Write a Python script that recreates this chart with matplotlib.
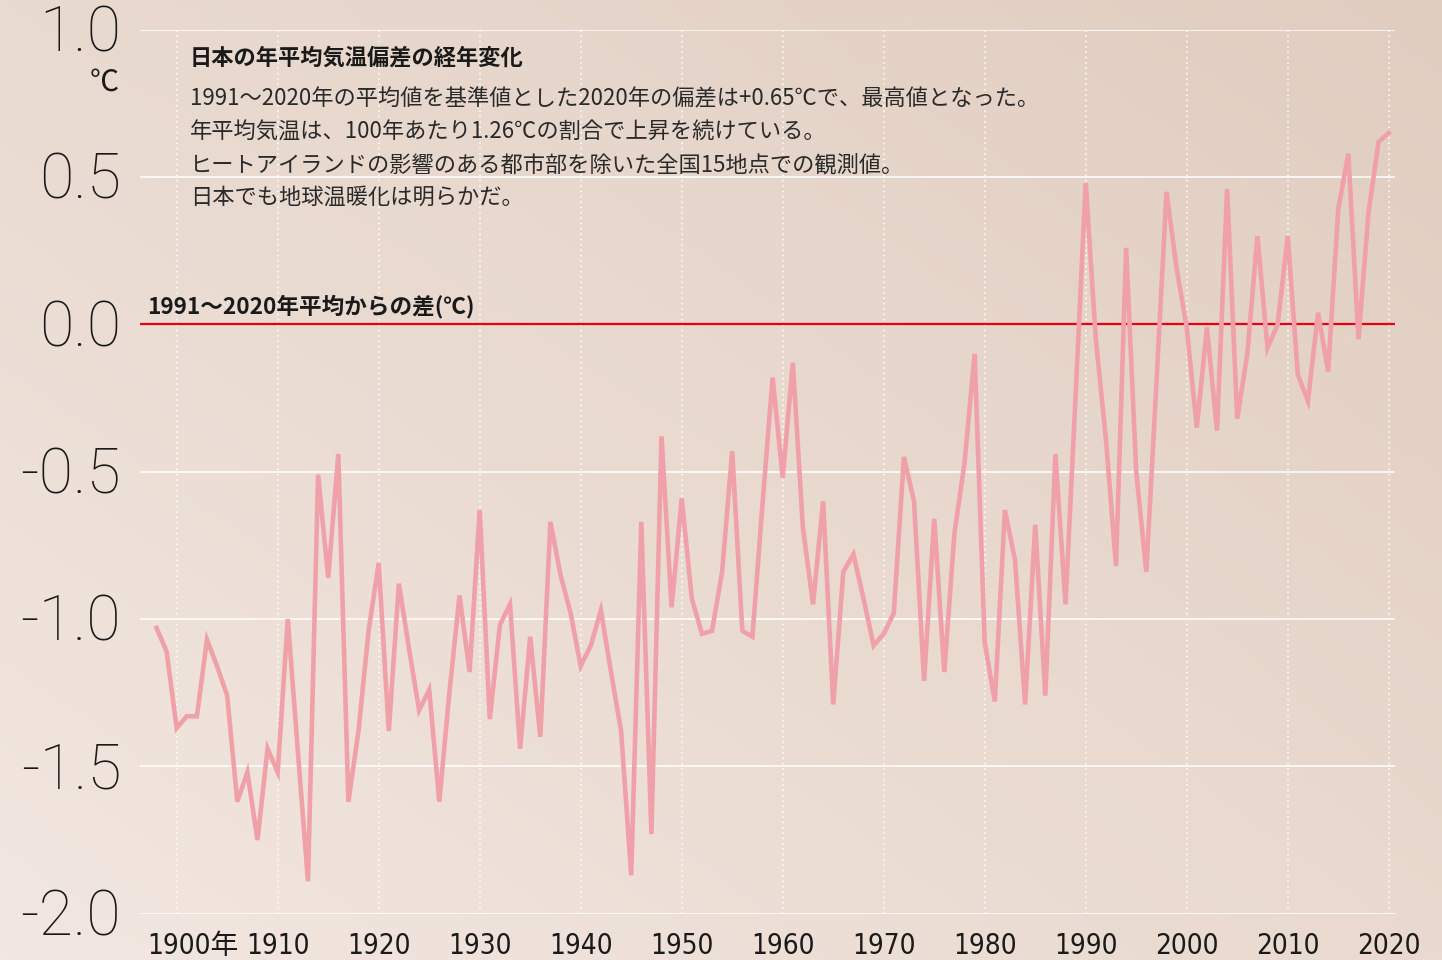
"""
日本の年平均気温偏差の経年変化 (1898-2020, 1991-2020 baseline)
"""
import numpy as np
import matplotlib.pyplot as plt
from matplotlib import font_manager as fm

# data: annual anomaly (degC), one value per year from 1898
start_year = 1898
anomaly = [
    -1.03, -1.11, -1.37, -1.33, -1.33, -1.07, -1.16, -1.26, -1.62, -1.52,   # 1898-1907
    -1.75, -1.44, -1.52, -1.00, -1.45, -1.89, -0.51, -0.86, -0.44, -1.62,   # 1908-1917
    -1.38, -1.04, -0.81, -1.38, -0.88, -1.10, -1.31, -1.24, -1.62, -1.25,   # 1918-1927
    -0.92, -1.18, -0.63, -1.34, -1.02, -0.95, -1.44, -1.06, -1.40, -0.67,   # 1928-1937
    -0.85, -0.98, -1.16, -1.09, -0.97, -1.18, -1.38, -1.87, -0.67, -1.73,   # 1938-1947
    -0.38, -0.96, -0.59, -0.93, -1.05, -1.04, -0.84, -0.43, -1.04, -1.06,   # 1948-1957
    -0.61, -0.18, -0.52, -0.13, -0.69, -0.95, -0.60, -1.29, -0.84, -0.78,   # 1958-1967
    -0.93, -1.09, -1.05, -0.98, -0.45, -0.60, -1.21, -0.66, -1.18, -0.71,   # 1968-1977
    -0.47, -0.10, -1.08, -1.28, -0.63, -0.80, -1.29, -0.68, -1.26, -0.44,   # 1978-1987
    -0.95, -0.24, 0.48, -0.05, -0.39, -0.82, 0.26, -0.50, -0.84, -0.20,     # 1988-1997
    0.45, 0.19, -0.01, -0.35, -0.01, -0.36, 0.46, -0.32, -0.10, 0.30,       # 1998-2007
    -0.08, 0.00, 0.30, -0.17, -0.26, 0.04, -0.16, 0.39, 0.58, -0.05,        # 2008-2017
    0.38, 0.62, 0.65,                                                        # 2018-2020
]
years = np.arange(start_year, start_year + len(anomaly))

y_ticks = [1.0, 0.5, 0.0, -0.5, -1.0, -1.5, -2.0]
y_tick_labels = ["1.0", "0.5", "0.0", "-0.5", "-1.0", "-1.5", "-2.0"]
x_ticks = [1900, 1910, 1920, 1930, 1940, 1950, 1960, 1970, 1980, 1990, 2000, 2010, 2020]

title = "日本の年平均気温偏差の経年変化"
body_lines = [
    "1991〜2020年の平均値を基準値とした2020年の偏差は+0.65℃で、最高値となった。",
    "年平均気温は、100年あたり1.26℃の割合で上昇を続けている。",
    "ヒートアイランドの影響のある都市部を除いた全国15地点での観測値。",
    "日本でも地球温暖化は明らかだ。",
]
zero_label = "1991〜2020年平均からの差(℃)"

JP = ["Noto Sans CJK JP", "DejaVu Sans"]

# pick a narrow font for the year labels if one is installed
installed = {(f.name, f.stretch) for f in fm.fontManager.ttflist}
names = {n for n, _ in installed}
if "Liberation Sans Narrow" in names:
    year_font = dict(family=["Liberation Sans Narrow", "Noto Sans CJK JP"], fontsize=23)
elif any(n == "DejaVu Sans" and s == "condensed" for n, s in installed):
    year_font = dict(family=["DejaVu Sans", "Noto Sans CJK JP"], fontstretch="condensed", fontsize=20)
else:
    year_font = dict(family=["Roboto", "Noto Sans CJK JP"], fontsize=19)

fig = plt.figure(figsize=(14.42, 9.6), dpi=100)

# background gradient (light bottom-left -> darker beige top-right)
bg = fig.add_axes([0, 0, 1, 1], zorder=-10)
c_tl = np.array([233, 218, 208]) / 255
c_tr = np.array([225, 205, 192]) / 255
c_bl = np.array([242, 231, 225]) / 255
c_br = np.array([233, 217, 206]) / 255
u = np.linspace(0, 1, 200)[None, :, None]
v = np.linspace(0, 1, 150)[:, None, None]
grad = (1 - v) * ((1 - u) * c_tl + u * c_tr) + v * ((1 - u) * c_bl + u * c_br)
bg.imshow(grad, aspect="auto", extent=[0, 1, 0, 1])
bg.axis("off")

ax = fig.add_axes([0.0971, 0.0483, 0.8703, 0.9206])
ax.set_facecolor("none")
ax.set_xlim(1896.37, 2020.62)
ax.set_ylim(-2.0, 1.0)
for s in ax.spines.values():
    s.set_visible(False)
ax.set_xticks([])
ax.set_yticks([])

# grid
for yt in y_ticks:
    if yt != 0.0:
        ax.axhline(yt, color="white", lw=1.1, zorder=1)
for xt in x_ticks:
    ax.axvline(xt, color="white", lw=1.1, ls=(0, (1, 2.5)), zorder=1)
ax.axhline(0.0, color="#e60012", lw=1.6, zorder=2)

ax.plot(years, anomaly, color="#f0a0a8", lw=3.3, solid_joinstyle="miter", zorder=3)

# y tick labels
for yt, lab in zip(y_ticks, y_tick_labels):
    ax.text(-0.015, yt - 0.015, lab, transform=ax.get_yaxis_transform(), ha="right",
            va="center", fontsize=45, family="Roboto", fontweight=100, color="#1a1a1a")
ax.text(-0.017, 0.82, "℃", transform=ax.get_yaxis_transform(), ha="right", va="center",
        fontsize=21, family=JP, color="#1a1a1a")

# x tick labels
for xt in x_ticks:
    if xt == 1900:
        ax.text(1897.1, -2.11, "1900年", ha="left", va="center", color="#1a1a1a", **year_font)
    else:
        ax.text(xt, -2.11, str(xt), ha="center", va="center", color="#1a1a1a", **year_font)

# annotation block
ax.text(1901.3, 0.905, title, ha="left", va="center", fontsize=16, fontweight="bold",
        family=JP, color="#1a1a1a")
for i, line in enumerate(body_lines):
    ax.text(1901.3, 0.765 - i * 0.111, line, ha="left", va="center", fontsize=16,
            family=JP, color="#2a2a2a")
ax.text(1897.05, 0.06, zero_label, ha="left", va="center", fontsize=16.3, fontweight="bold",
        family=JP, color="#1a1a1a")

fig.savefig("out.png", dpi=100)
